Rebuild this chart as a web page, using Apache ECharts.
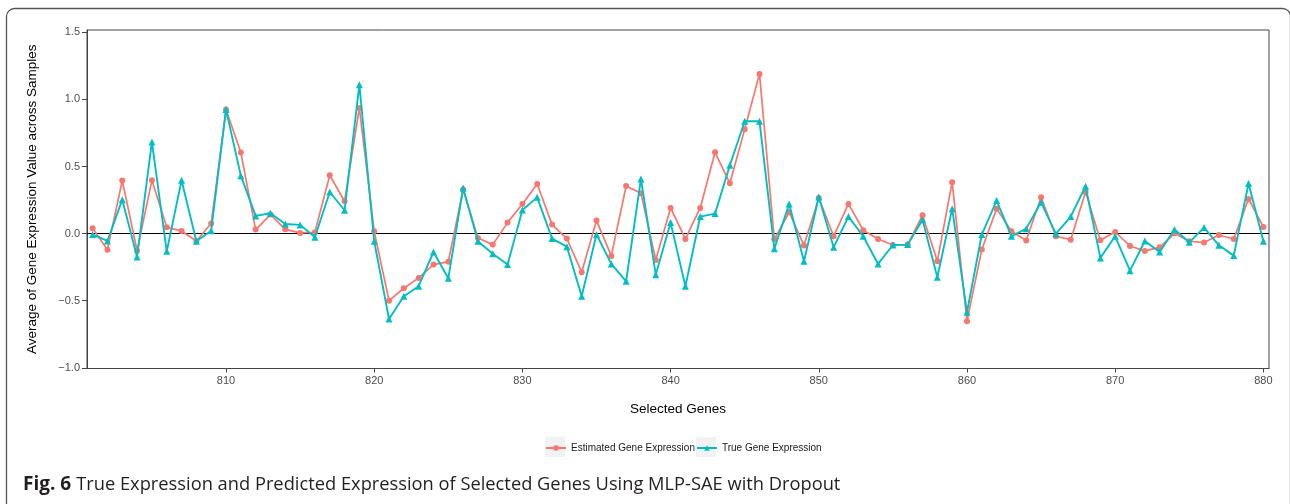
<!DOCTYPE html>
<html>
<head>
<meta charset="utf-8">
<script src="https://cdn.jsdelivr.net/npm/echarts@6/dist/echarts.min.js"></script>
<style>
  html, body { margin: 0; padding: 0; background: #fff; }
  #chart { width: 1290px; height: 504px; }
</style>
</head>
<body>
<div id="chart"></div>
<script>
const genes = [801,802,803,804,805,806,807,808,809,810,
  811,812,813,814,815,816,817,818,819,820,
  821,822,823,824,825,826,827,828,829,830,
  831,832,833,834,835,836,837,838,839,840,
  841,842,843,844,845,846,847,848,849,850,
  851,852,853,854,855,856,857,858,859,860,
  861,862,863,864,865,866,867,868,869,870,
  871,872,873,874,875,876,877,878,879,880];

const estimated = [0.04,-0.12,0.395,-0.127,0.397,0.047,0.02,-0.055,0.075,0.924,
  0.604,0.03,0.142,0.032,0.005,0.01,0.435,0.241,0.936,0.017,
  -0.5,-0.407,-0.33,-0.231,-0.209,0.328,-0.032,-0.082,0.082,0.221,
  0.37,0.067,-0.037,-0.288,0.097,-0.166,0.355,0.3,-0.196,0.191,
  -0.04,0.191,0.606,0.375,0.777,1.19,-0.042,0.159,-0.089,0.266,
  -0.02,0.221,0.025,-0.04,-0.085,-0.082,0.137,-0.206,0.383,-0.653,
  -0.119,0.186,0.017,-0.052,0.271,-0.02,-0.045,0.31,-0.05,0.012,
  -0.092,-0.129,-0.102,0.002,-0.057,-0.067,-0.01,-0.04,0.258,0.05];

const trueExpr = [-0.007,-0.055,0.253,-0.174,0.683,-0.132,0.397,-0.057,0.022,0.924,
  0.432,0.132,0.152,0.072,0.065,-0.027,0.31,0.174,1.11,-0.057,
  -0.636,-0.467,-0.392,-0.137,-0.333,0.34,-0.057,-0.15,-0.23,0.176,
  0.27,-0.037,-0.097,-0.467,-0.007,-0.226,-0.355,0.407,-0.306,0.082,
  -0.392,0.127,0.149,0.509,0.837,0.837,-0.112,0.221,-0.206,0.273,
  -0.102,0.127,-0.02,-0.226,-0.085,-0.082,0.104,-0.325,0.186,-0.586,
  -0.007,0.246,-0.02,0.037,0.233,-0.002,0.127,0.353,-0.181,-0.02,
  -0.276,-0.055,-0.137,0.03,-0.065,0.045,-0.087,-0.164,0.373,-0.057];

const xTicks = [810,820,830,840,850,860,870,880];
const yTicks = [-1,-0.5,0,0.5,1,1.5];

const seriesNames = ['Estimated Gene Expression', 'True Gene Expression'];
const captionBold = 'Fig. 6';
const captionText = 'True Expression and Predicted Expression of Selected Genes Using MLP-SAE with Dropout';

const chart = echarts.init(document.getElementById('chart'), null, {renderer: 'canvas'});
const font = 'Liberation Sans, Arial, sans-serif';
const pair = arr => genes.map((g, i) => [g, arr[i]]);

chart.setOption({
  animation: false,
  backgroundColor: '#fff',
  textStyle: { fontFamily: font },
  title: {
    left: 23, top: 475, padding: 0,
    text: '{b|' + captionBold + '} {r|' + captionText + '}',
    textStyle: {
      fontWeight: 'normal',
      rich: {
        b: { fontFamily: 'Open Sans', fontWeight: 'bold', fontSize: 19, color: '#231f20' },
        r: { fontFamily: 'Open Sans', fontWeight: 'normal', fontSize: 18.3, color: '#231f20' }
      }
    }
  },
  graphic: [
    { type: 'rect', z: -1, silent: true,
      shape: { x: 6.5, y: 8.5, width: 1284, height: 620, r: 8 },
      style: { fill: 'none', stroke: '#555', lineWidth: 1.3 } },
    { type: 'rect', z: -1, silent: true,
      shape: { x: 545, y: 437, width: 20, height: 20 },
      style: { fill: '#f2f2f2' } },
    { type: 'rect', z: -1, silent: true,
      shape: { x: 696, y: 437, width: 20, height: 20 },
      style: { fill: '#f2f2f2' } }
  ],
  legend: {
    left: 545, top: 443, padding: 0,
    itemWidth: 20, itemHeight: 7, itemGap: 1,
    textStyle: { fontSize: 10, color: '#1a1a1a', fontFamily: font },
    data: seriesNames
  },
  grid: {
    left: 87, right: 21, top: 30, bottom: 135.5,
    show: true, borderColor: '#444', borderWidth: 1, backgroundColor: '#fff'
  },
  xAxis: {
    type: 'value', min: 800.62, max: 880.38,
    name: 'Selected Genes', nameLocation: 'middle', nameGap: 34,
    nameTextStyle: { fontSize: 13.5, color: '#000', fontFamily: font },
    axisLine: { show: true, onZero: false, lineStyle: { color: '#444', width: 1 } },
    axisTick: { show: true, length: 4, customValues: xTicks, lineStyle: { color: '#444' } },
    axisLabel: { customValues: xTicks, fontSize: 11, color: '#4d4d4d', margin: 7 },
    splitLine: { show: false }
  },
  yAxis: {
    type: 'value', min: -1.005, max: 1.517,
    name: 'Average of Gene Expression Value across Samples', nameLocation: 'middle', nameGap: 48,
    nameTextStyle: { fontSize: 13.5, color: '#000', fontFamily: font },
    axisLine: { show: true, onZero: false, lineStyle: { color: '#444', width: 1 } },
    axisTick: { show: true, length: 5, customValues: yTicks, lineStyle: { color: '#444' } },
    axisLabel: { customValues: yTicks, fontSize: 11, color: '#4d4d4d', margin: 7,
      formatter: v => (v < 0 ? '\u2212' : '') + Math.abs(v).toFixed(1) },
    splitLine: { show: false }
  },
  series: [
    {
      name: seriesNames[0], type: 'line', data: pair(estimated),
      symbol: 'circle', symbolSize: 6, z: 3,
      itemStyle: { color: '#F8766D' },
      lineStyle: { color: '#F8766D', width: 1.7 },
      markLine: {
        silent: true, symbol: 'none', z: 1,
        label: { show: false },
        lineStyle: { color: '#000', type: 'solid', width: 1.2 },
        data: [{ yAxis: 0 }]
      }
    },
    {
      name: seriesNames[1], type: 'line', data: pair(trueExpr),
      symbol: 'triangle', symbolSize: 7, z: 4,
      itemStyle: { color: '#00BFC4' },
      lineStyle: { color: '#00BFC4', width: 1.9 }
    }
  ]
});
</script>
</body>
</html>
